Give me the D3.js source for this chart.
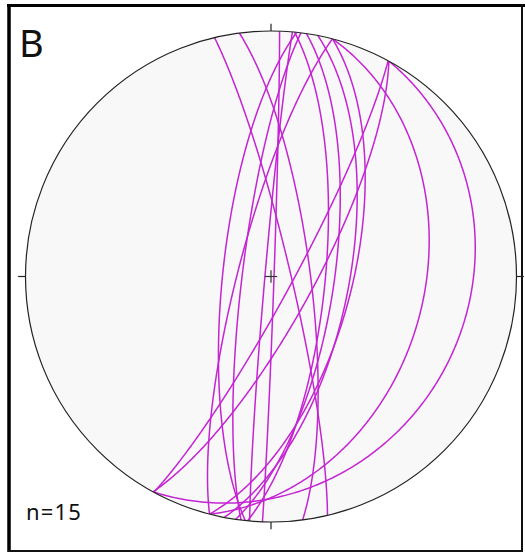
<!DOCTYPE html>
<html>
<head>
<meta charset="utf-8">
<script src="https://cdn.jsdelivr.net/npm/d3@7/dist/d3.min.js"></script>
<style>
  html, body { margin: 0; padding: 0; background: #ffffff; }
  svg { display: block; }
</style>
</head>
<body>
<svg id="chart" width="525" height="554"></svg>
<script>
// ---- data: planes (right-hand-rule strike, dip) ----
const planeNames = ["p1","p2","p3","p4","p5","p6","p7","p8","p9","p10","p11","p12","p13","p14","p15"];
const strikes = [28.7, 28.7, 28.5, 14.5, 14.5, 194.5, 11, 8.3, 2,  5.5, 346.7, 352.6, 186, 187, 185];
const dips    = [21,   76,   83,   37.5, 63,   79,    64, 69,  89, 72,  83.5,  77,    74,  80.5, 88];
const panelLabel = "B";
const countLabel = "n=15";
const directionTicks = [0, 90, 180, 270];

// ---- layout ----
const svg = d3.select("#chart");
const cx = 271, cy = 276.5, R = 245.5;
const x = d3.scaleLinear().domain([-1, 1]).range([cx - R, cx + R]);
const y = d3.scaleLinear().domain([-1, 1]).range([cy + R, cy - R]);
const rad = Math.PI / 180;

// frame
svg.append("line").attr("x1", 7).attr("x2", 525).attr("y1", 5.5).attr("y2", 5.5)
   .attr("stroke", "#000").attr("stroke-width", 3);
svg.append("line").attr("x1", 9).attr("x2", 9).attr("y1", 4).attr("y2", 552)
   .attr("stroke", "#000").attr("stroke-width", 3.5);
svg.append("line").attr("x1", 8).attr("x2", 523).attr("y1", 551).attr("y2", 551)
   .attr("stroke", "#111").attr("stroke-width", 2);
svg.append("line").attr("x1", 522).attr("x2", 522).attr("y1", 4).attr("y2", 552)
   .attr("stroke", "#111").attr("stroke-width", 2);

// primitive circle
svg.append("circle").attr("cx", x(0)).attr("cy", y(0)).attr("r", x(1) - x(0))
   .attr("fill", "#f8f8f8").attr("stroke", "none");

svg.append("defs").append("clipPath").attr("id", "net")
   .append("circle").attr("cx", x(0)).attr("cy", y(0)).attr("r", x(1) - x(0));

// equal-area (Schmidt) lower hemisphere projection of a plane
function planePoints(strike, dip) {
  const pts = [];
  const s = strike * rad, d = dip * rad;
  for (let a = 0; a <= 180.0001; a += 0.5) {
    const al = a * rad;
    const E = Math.cos(al) * Math.sin(s) + Math.sin(al) * Math.cos(d) * Math.sin(s + Math.PI / 2);
    const N = Math.cos(al) * Math.cos(s) + Math.sin(al) * Math.cos(d) * Math.cos(s + Math.PI / 2);
    const D = Math.sin(al) * Math.sin(d);
    const k = 1 / Math.sqrt(1 + D);
    pts.push([E * k, N * k]);
  }
  return pts;
}

const line = d3.line().x(p => x(p[0])).y(p => y(p[1])).curve(d3.curveLinear);

const planes = planeNames.map((n, i) => ({ name: n, strike: strikes[i], dip: dips[i] }));

svg.append("g").attr("clip-path", "url(#net)")
  .selectAll("path").data(planes).join("path")
  .attr("d", p => line(planePoints(p.strike, p.dip)))
  .attr("fill", "none")
  .attr("stroke", "#c424d2")
  .attr("stroke-width", 1.5);

// primitive outline
svg.append("circle").attr("cx", x(0)).attr("cy", y(0)).attr("r", x(1) - x(0))
   .attr("fill", "none").attr("stroke", "#222").attr("stroke-width", 1.2);

// direction ticks outside primitive
svg.append("g").selectAll("line").data(directionTicks).join("line")
  .attr("x1", t => x(Math.sin(t * rad)))
  .attr("y1", t => y(Math.cos(t * rad)))
  .attr("x2", t => x(Math.sin(t * rad) * 1.03))
  .attr("y2", t => y(Math.cos(t * rad) * 1.03))
  .attr("stroke", "#222").attr("stroke-width", 1.2);

// centre cross
svg.append("line").attr("x1", x(-0.025)).attr("x2", x(0.025)).attr("y1", y(0)).attr("y2", y(0))
   .attr("stroke", "#333").attr("stroke-width", 1.2);
svg.append("line").attr("x1", x(0)).attr("x2", x(0)).attr("y1", y(-0.025)).attr("y2", y(0.025))
   .attr("stroke", "#333").attr("stroke-width", 1.2);

// labels
svg.append("text").attr("x", 19).attr("y", 57).text(panelLabel)
   .attr("font-family", "Noto Sans, DejaVu Sans, sans-serif").attr("font-size", 38)
   .attr("fill", "#111");
svg.append("text").attr("x", 26).attr("y", 520).text(countLabel)
   .attr("font-family", "Noto Sans, DejaVu Sans, sans-serif").attr("font-size", 22)
   .attr("letter-spacing", 1.2)
   .attr("fill", "#111");
</script>
</body>
</html>
